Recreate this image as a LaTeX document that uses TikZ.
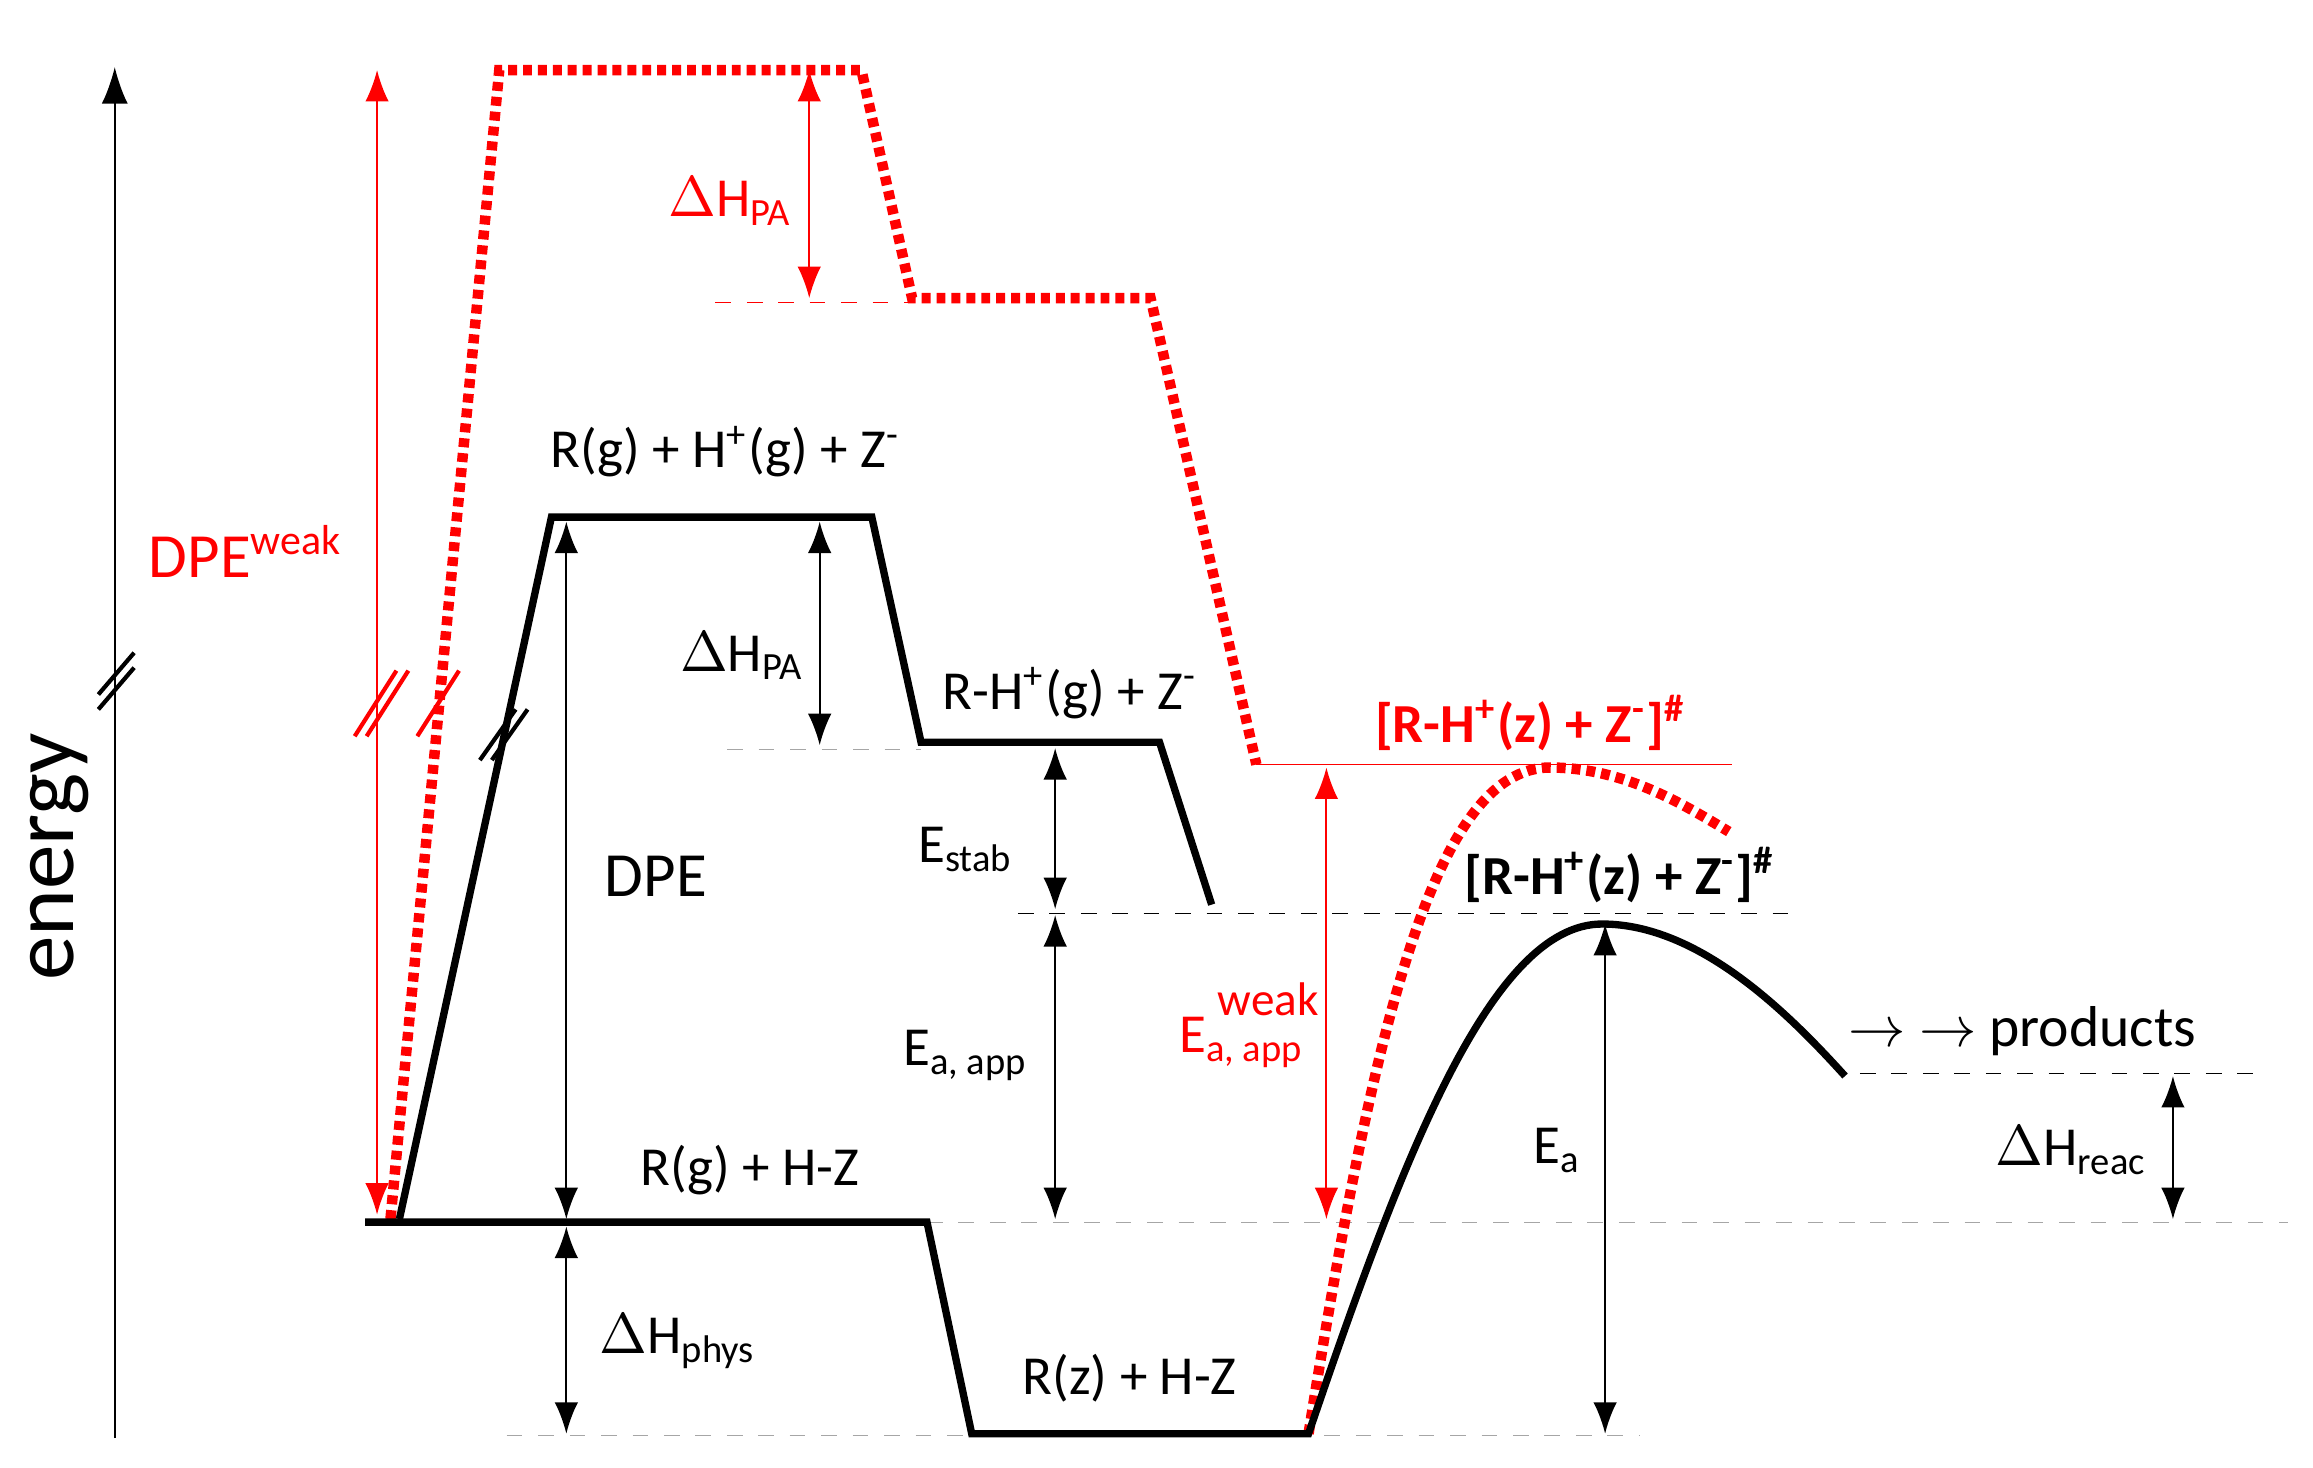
\documentclass[tikz,border=0pt]{standalone}
\usepackage{fontspec}
\setmainfont{Carlito}
\usetikzlibrary{arrows.meta}
\tikzset{
  lab/.style={font=\fontsize{10.5}{12}\selectfont, inner sep=1pt},
  thick black/.style={line width=1.4pt, black},
  reddot/.style={line width=2pt, red, dash pattern=on 0.06cm off 0.04cm},
  dim/.style={thin, {Latex[length=6pt,width=4.5pt]}-{Latex[length=6pt,width=4.5pt]}},
  refline/.style={very thin, dashed, gray!70},
  brk/.style={line width=0.8pt}
}
\begin{document}
\begin{tikzpicture}[x=0.01cm,y=-0.01cm]
\useasboundingbox (0,0) rectangle (1552,985);
% axis
\coordinate (ax0) at (77,965); \coordinate (ax1) at (77,45);
\draw[thin,-{Latex[length=7pt,width=5pt]}] (ax0) -- (ax1);
\draw[brk] (66,466) -- (90,438); \draw[brk] (66,476) -- (90,448);
\node[lab, rotate=90, font=\fontsize{17}{18}\selectfont] (en) at (40,575) {energy};
% reference lines
\draw[refline] (340,963) -- (1100,963);
\draw[refline] (622,820) -- (1535,820);
\draw[refline] (488,503) -- (618,503);
\draw[very thin, dashed, black] (683,613) -- (1210,613);
\draw[very thin, dashed, black] (1248,720) -- (1517,720);
\draw[very thin, dashed, red] (480,203) -- (612,203);
\draw[very thin, red] (843,513) -- (1162,513);
% red dotted profile
\draw[reddot] (262,818) -- (335,47) -- (578,47) -- (612,200) -- (772,200) -- (843,513);
\draw[reddot] (878,962) .. controls (920,700) and (960,515) .. (1040,515) .. controls (1090,515) and (1130,540) .. (1160,558);
% black profile
\draw[thick black] (245,820) -- (622,820) -- (652,962) -- (878,962)
  .. controls (940,780) and (1000,620) .. (1075,620) .. controls (1140,620) and (1200,680) .. (1238,722);
\draw[thick black] (268,818) -- (370,347) -- (585,347) -- (618,498) -- (778,498) -- (813,607);
% break marks
\draw[brk] (322,510) -- (346,476); \draw[brk] (330,510) -- (354,476);
\draw[brk,red] (238,494) -- (266,450); \draw[brk,red] (246,494) -- (274,450);
\draw[brk,red] (280,494) -- (308,450);
% dimension arrows
\draw[dim,red] (253,815) -- (253,47);
\draw[dim,red] (543,47) -- (543,200);
\draw[dim] (550,350) -- (550,500);
\draw[dim] (380,350) -- (380,818);
\draw[dim] (380,823) -- (380,962);
\draw[dim] (708,502) -- (708,610);
\draw[dim] (708,614) -- (708,818);
\draw[dim,red] (890,515) -- (890,818);
\draw[dim] (1077,620) -- (1077,962);
\draw[dim] (1458,722) -- (1458,818);
% labels
\node[lab,red,font=\fontsize{12}{14}\selectfont] (l1) at (165,370) {DPE\textsuperscript{weak}};
\node[lab,red] (l2) at (490,135) {$\Delta$H\textsubscript{PA}};
\node[lab] (l3) at (498,440) {$\Delta$H\textsubscript{PA}};
\node[lab,font=\fontsize{12}{14}\selectfont] (l4) at (440,588) {DPE};
\node[lab] (l5) at (455,900) {$\Delta$H\textsubscript{phys}};
\node[lab] (l6) at (648,570) {E\textsubscript{stab}};
\node[lab] (l7) at (648,708) {E\textsubscript{a, app}};
\node[lab,red,align=left] (l8) at (838,688) {\hspace*{0.7em}{\fontsize{9}{9}\selectfont weak}\\[-5pt]E\textsubscript{a, app}};
\node[lab] (l9) at (1045,772) {E\textsubscript{a}};
\node[lab] (l10) at (1390,772) {$\Delta$H\textsubscript{reac}};
\node[lab] (t1) at (487,303) {R(g) + H\textsuperscript{+}(g) + Z\textsuperscript{-}};
\node[lab] (t2) at (718,465) {R-H\textsuperscript{+}(g) + Z\textsuperscript{-}};
\node[lab] (t3) at (503,785) {R(g) + H-Z};
\node[lab] (t4) at (758,925) {R(z) + H-Z};
\node[lab,font=\fontsize{10.5}{12}\selectfont\bfseries] (t5) at (1087,587) {[R-H\textsuperscript{+}(z) + Z\textsuperscript{-}]\textsuperscript{\#}};
\node[lab,red,font=\fontsize{10.5}{12}\selectfont\bfseries] (t6) at (1027,485) {[R-H\textsuperscript{+}(z) + Z\textsuperscript{-}]\textsuperscript{\#}};
\node[lab,font=\fontsize{11}{13}\selectfont] (t7) at (1357,692) {$\rightarrow$ $\rightarrow$ products};
\end{tikzpicture}
\end{document}
